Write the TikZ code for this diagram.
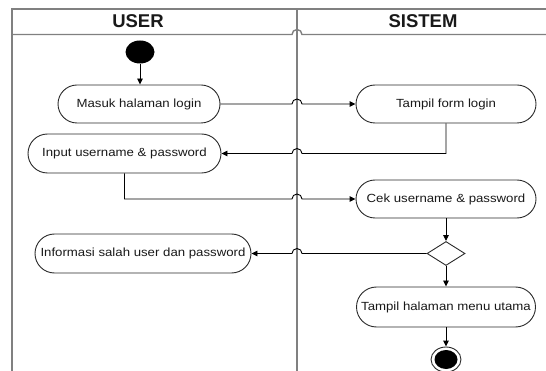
\documentclass[tikz,border=0pt]{standalone}
\usepackage{fontspec}
\setmainfont{Liberation Sans}[FakeStretch=1.12]
\newfontfamily\headfont{Liberation Sans}
\usetikzlibrary{shapes.misc,shapes.geometric,arrows.meta,calc}
\definecolor{lanegray}{HTML}{808080}
\definecolor{boxline}{HTML}{2A2A2A}
\tikzset{
  lane/.style={draw=lanegray,line width=1.4pt},
  act/.style={draw=boxline,line width=0.9pt,rounded rectangle,fill=white,inner sep=1pt,
    font=\fontsize{11.8}{13}\selectfont,text=black!90},
  conn/.style={draw=black,line width=0.9pt,-{Triangle[length=6pt,width=5.5pt]}},
  head/.style={font=\headfont\fontsize{18.5}{20}\selectfont\bfseries,text=black!90},
}
\begin{document}
\begin{tikzpicture}[x=1pt,y=-1pt]
\useasboundingbox (0,0) rectangle (546,371);
% swimlanes
\coordinate (lane) at (297,0);
\coordinate (tl) at (12,9);
\coordinate (tr) at (546,9);
\coordinate (bl) at (12,371);
\coordinate (hl) at (12,34.5);
\coordinate (hr) at (546,34.5);
\draw[lane] (bl) -- (tl) -- (tr);
\draw[lane] (lane |- tl) -- (lane |- bl);
\draw[lane] (hl) -- ($(hl -| lane)+(-5,0)$) arc[start angle=180,end angle=360,radius=5] -- (hr);
\node[head] (huser) at (138,21) {USER};
\node[head] (hsis) at (423,21) {SISTEM};
% nodes
\node[ellipse,fill=black,minimum width=29pt,minimum height=23pt,inner sep=0pt] (start) at (140,52) {};
\node[act,minimum width=164pt,minimum height=38pt] (masuk) at (139,104) {Masuk halaman login};
\node[act,minimum width=182pt,minimum height=38pt] (tfl) at (446,104) {Tampil form login};
\node[act,minimum width=195pt,minimum height=39pt] (input) at (124.5,153.5) {Input username \& password};
\node[act,minimum width=182pt,minimum height=38pt] (cek) at (446,199) {Cek username \& password};
\node[diamond,draw=boxline,line width=0.9pt,minimum width=38pt,minimum height=24pt,inner sep=0pt] (dec) at (446,253.5) {};
\node[act,minimum width=218pt,minimum height=39pt] (info) at (143,253.5) {Informasi salah user dan password};
\node[act,minimum width=181pt,minimum height=40pt] (thm) at (446,307) {Tampil halaman menu utama};
\node[ellipse,draw=boxline,line width=0.9pt,minimum width=30pt,minimum height=25pt,inner sep=0pt] (endo) at (446,359.5) {};
\node[ellipse,fill=black,minimum width=23pt,minimum height=19pt,inner sep=0pt] (endi) at (endo) {};
% connectors
\draw[conn] (start.south) -- (start.south |- masuk.north);
\draw[conn] (masuk.east) -- ($(masuk.east -| lane)+(-5,0)$) arc[start angle=180,end angle=360,radius=5] -- (tfl.west);
\draw[conn] (tfl.south) -- (tfl.south |- input.east) -- ($(input.east -| lane)+(5,0)$) arc[start angle=0,end angle=-180,radius=5] -- (input.east);
\draw[conn] (input.south) -- (input.south |- cek.west) -- ($(cek.west -| lane)+(-5,0)$) arc[start angle=180,end angle=360,radius=5] -- (cek.west);
\draw[conn] (cek.south) -- (dec.north);
\draw[conn] (dec.west) -- ($(dec.west -| lane)+(5,0)$) arc[start angle=0,end angle=-180,radius=5] -- (info.east);
\draw[conn] (dec.south) -- (thm.north);
\draw[conn] (thm.south) -- (endo.north);
\end{tikzpicture}
\end{document}
